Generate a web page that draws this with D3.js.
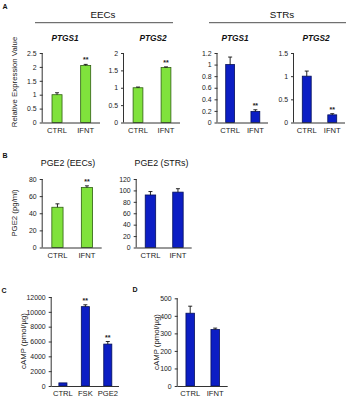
<!DOCTYPE html>
<html><head><meta charset="utf-8">
<script src="https://cdn.jsdelivr.net/npm/d3@7"></script>
<style>body{margin:0;background:#fff}svg{display:block;font-family:"Liberation Sans",Arial,sans-serif}</style>
</head><body><svg id="c" width="356" height="400"></svg>
<script>
const catsCI = ["CTRL","IFNT"];
const catsC = ["CTRL","FSK","PGE2"];
const eecPtgs1 = [1.0, 2.05], eecPtgs1Err = [0.07, 0.04], eecPtgs1Sig = ["", "**"];
const eecPtgs2 = [1.0, 1.58], eecPtgs2Err = [0.02, 0.02], eecPtgs2Sig = ["", "**"];
const strPtgs1 = [1.0, 0.19], strPtgs1Err = [0.13, 0.03], strPtgs1Sig = ["", "**"];
const strPtgs2 = [1.0, 0.165], strPtgs2Err = [0.11, 0.025], strPtgs2Sig = ["", "**"];
const pgeEec = [47, 70], pgeEecErr = [4, 2], pgeEecSig = ["", "**"];
const pgeStr = [92, 97], pgeStrErr = [6, 6], pgeStrSig = ["", ""];
const campC = [420, 10700, 5650], campCErr = [0, 250, 350], campCSig = ["", "**", "**"];
const campD = [415, 322], campDErr = [40, 8], campDSig = ["", ""];
const ticksA1 = [0,0.5,1,1.5,2,2.5], ticksA2 = [0,0.5,1,1.5,2];
const ticksA3 = [0,0.2,0.4,0.6,0.8,1,1.2], ticksA4 = [0,0.5,1,1.5];
const ticksB1 = [0,20,40,60,80], ticksB2 = [0,20,40,60,80,100,120];
const ticksC = [0,2000,4000,6000,8000,10000,12000], ticksD = [0,100,200,300,400,500];

const GREEN = {fill:"#80e23c", stroke:"#2f5f12"};
const BLUE = {fill:"#0c1ec4", stroke:"#05105a"};
const svg = d3.select("#c");
const fmt = d3.format("~g");

function panel(o){
  const x = d3.scaleBand().domain(o.cats).range([o.x0, o.x1]).paddingInner(o.pad).paddingOuter(o.pad/2);
  const y = d3.scaleLinear().domain([0, d3.max(o.ticks)]).range([o.yb, o.yt]);
  const g = svg.append("g");
  const bw = x.bandwidth();
  g.selectAll("rect").data(o.vals).join("rect")
    .attr("x", (d,i)=>x(o.cats[i])).attr("width", bw)
    .attr("y", d=>y(d)).attr("height", d=>o.yb - y(d))
    .attr("fill", o.col.fill).attr("stroke", o.col.stroke).attr("stroke-width", 0.8);
  o.vals.forEach((v,i)=>{
    if(!o.err[i]) return;
    const cx = x(o.cats[i]) + bw/2;
    g.append("line").attr("x1",cx).attr("x2",cx).attr("y1",y(v)).attr("y2",y(v+o.err[i])).attr("stroke","#111").attr("stroke-width",0.9);
    g.append("line").attr("x1",cx-2).attr("x2",cx+2).attr("y1",y(v+o.err[i])).attr("y2",y(v+o.err[i])).attr("stroke","#111").attr("stroke-width",0.9);
  });
  g.selectAll("text.sig").data(o.sig).join("text").attr("class","sig")
    .attr("x",(d,i)=>x(o.cats[i])+bw/2).attr("y",(d,i)=>y(o.vals[i]+(o.err[i]||0))-2)
    .attr("text-anchor","middle").attr("font-size",7).attr("font-weight","bold").attr("fill","#222").text(d=>d);
  const ya = g.append("g").attr("transform",`translate(${o.x0},0)`)
    .call(d3.axisLeft(y).tickValues(o.ticks).tickFormat(fmt).tickSize(3).tickPadding(3));
  ya.select(".domain").attr("d", `M-0.5,${o.yb}V${o.yt}`).attr("stroke","#333");
  ya.selectAll(".tick line").attr("stroke","#333");
  ya.selectAll("text").attr("font-size",6.9).attr("fill","#222").attr("font-family","Liberation Sans, Arial, sans-serif");
  const xa = g.append("g").attr("transform",`translate(0,${o.yb})`)
    .call(d3.axisBottom(x).tickSize(0).tickPadding(5));
  xa.select(".domain").attr("d", `M${o.x0},0.5H${o.x1}`).attr("stroke","#333");
  xa.selectAll("text").attr("font-size",7.6).attr("fill","#222").attr("font-family","Liberation Sans, Arial, sans-serif");
  if(o.title){
    svg.append("text").attr("x",o.tx).attr("y",o.ty).attr("text-anchor","middle")
      .attr("font-size",o.tsize||8.3).attr("font-style",o.italic?"italic":"normal").attr("font-weight",o.italic?"bold":"normal")
      .attr("fill","#111").text(o.title);
  }
  if(o.ylab){
    svg.append("text").attr("transform",`translate(${o.lx},${o.ly}) rotate(-90)`).attr("text-anchor","middle")
      .attr("font-size",7.8).attr("fill","#222").text(o.ylab);
  }
}

panel({cats:catsCI, vals:eecPtgs1, err:eecPtgs1Err, sig:eecPtgs1Sig, ticks:ticksA1, col:GREEN,
  x0:42.7, x1:100, yb:122.5, yt:53, pad:0.65, title:"PTGS1", italic:true, tx:65, ty:41,
  ylab:"Relative Expression Value", lx:17, ly:82});
panel({cats:catsCI, vals:eecPtgs2, err:eecPtgs2Err, sig:eecPtgs2Sig, ticks:ticksA2, col:GREEN,
  x0:124, x1:180, yb:122.5, yt:53, pad:0.65, title:"PTGS2", italic:true, tx:153, ty:41});
panel({cats:catsCI, vals:strPtgs1, err:strPtgs1Err, sig:strPtgs1Sig, ticks:ticksA3, col:BLUE,
  x0:217.5, x1:268, yb:122.5, yt:53, pad:0.65, title:"PTGS1", italic:true, tx:235, ty:41});
panel({cats:catsCI, vals:strPtgs2, err:strPtgs2Err, sig:strPtgs2Sig, ticks:ticksA4, col:BLUE,
  x0:294, x1:345, yb:122.5, yt:53, pad:0.65, title:"PTGS2", italic:true, tx:316, ty:41});
[["EECs",103,35,173],["STRs",282,209,346]].forEach(([t,cx,a,b])=>{
  svg.append("text").attr("x",cx).attr("y",17.5).attr("text-anchor","middle").attr("font-size",9.8).attr("fill","#111").text(t);
  svg.append("line").attr("x1",a).attr("x2",b).attr("y1",22.7).attr("y2",22.7).attr("stroke","#222").attr("stroke-width",0.8);
});

panel({cats:catsCI, vals:pgeEec, err:pgeEecErr, sig:pgeEecSig, ticks:ticksB1, col:GREEN,
  x0:42.7, x1:101.7, yb:247.5, yt:179, pad:0.62, title:"PGE2 (EECs)", tx:68, ty:166, tsize:8.8,
  ylab:"PGE2 (pg/ml)", lx:17, ly:213});
panel({cats:catsCI, vals:pgeStr, err:pgeStrErr, sig:pgeStrSig, ticks:ticksB2, col:BLUE,
  x0:136.7, x1:191.7, yb:247.5, yt:179, pad:0.62, title:"PGE2 (STRs)", tx:161.5, ty:166, tsize:8.8});

panel({cats:catsC, vals:campC, err:campCErr, sig:campCSig, ticks:ticksC, col:BLUE,
  x0:51.7, x1:119, yb:386, yt:297, pad:0.64,
  ylab:"cAMP (pmol/\u00b5g)", lx:25.5, ly:341});
panel({cats:catsCI, vals:campD, err:campDErr, sig:campDSig, ticks:ticksD, col:BLUE,
  x0:177.7, x1:227.7, yb:386, yt:298.3, pad:0.66,
  ylab:"cAMP (pmol/\u00b5g)", lx:159, ly:342});

[["A",5,9],["B",5,158],["C",4,293],["D",135,292]].forEach(([t,x,y])=>{
  svg.append("text").attr("x",x).attr("y",y).attr("text-anchor","middle").attr("font-size",7).attr("font-weight","bold").attr("fill","#111").text(t);
});
</script></body></html>
